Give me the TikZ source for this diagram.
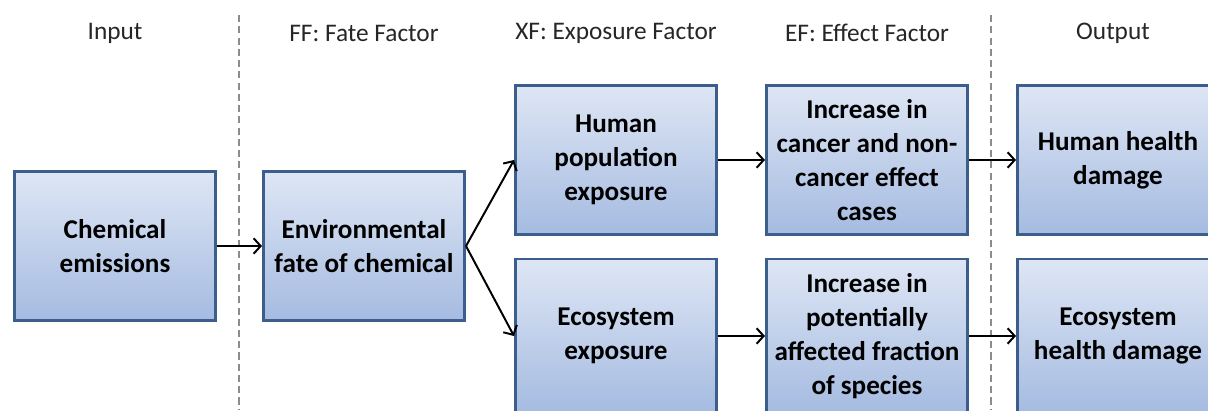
\documentclass[tikz,border=0pt]{standalone}
\usepackage{fontspec}
\setmainfont{Carlito}
\usetikzlibrary{arrows.meta}
\definecolor{boxline}{HTML}{3B5E8C}
\definecolor{boxtop}{HTML}{DEE6F4}
\definecolor{boxbot}{HTML}{A5BBE1}
\definecolor{divgray}{HTML}{8C8C8C}
\begin{document}
\begin{tikzpicture}[x=0.025cm,y=-0.025cm,
  stage/.style={draw=boxline,line width=2.1pt,top color=boxtop,bottom color=boxbot,
    minimum width=5.025cm,minimum height=3.725cm,inner sep=1pt,align=center,
    font=\fontsize{19.3}{24.3}\selectfont\bfseries},
  lowstage/.style={stage,minimum height=3.85cm},
  link/.style={-{Straight Barb[length=5pt,width=11pt]},line width=1.4pt},
  divider/.style={draw=divgray,line width=1.4pt,dash pattern=on 5pt off 3pt},
  head/.style={font=\fontsize{18}{21}\selectfont,text=black!85}]
  \useasboundingbox (0,0) rectangle (1208,410);
  \clip (0,0) rectangle (1208,410);
  % column dividers
  \draw[divider] (239,15) -- (239,410);
  \draw[divider] (991,15) -- (991,410);
  % column headings
  \node[head] (hin)  at (115,33)  {Input};
  \node[head] (hff)  at (364,33)  {FF: Fate Factor};
  \node[head] (hxf)  at (616,33)  {XF: Exposure Factor};
  \node[head] (hef)  at (867,33)  {EF: Effect Factor};
  \node[head] (hout) at (1113,33) {Output};
  % boxes
  \node[stage] (emis)  at (115,246) {Chemical\\emissions};
  \node[stage] (fate)  at (364,246) {Environmental\\fate of chemical};
  \node[stage] (humx)  at (616,160) {Human\\population\\exposure};
  \node[lowstage] (ecox)  at (616,336) {Ecosystem\\exposure};
  \node[stage] (canc)  at (867,160) {Increase in\\cancer and non-\\cancer effect\\cases};
  \node[lowstage] (paf)   at (867,336) {Increase in\\potentially\\affected fraction\\of species};
  \node[stage] (humd)  at (1118,160) {Human health\\damage};
  \node[lowstage] (ecod)  at (1118,336) {Ecosystem\\health damage};
  % connectors
  \draw[link] (emis.east) -- (fate.west);
  \draw[link] (fate.east) -- (humx.west);
  \draw[link] (fate.east) -- (ecox.west);
  \draw[link] (humx) -- (canc);
  \draw[link] (canc) -- (humd);
  \draw[link] (ecox) -- (paf);
  \draw[link] (paf) -- (ecod);
\end{tikzpicture}
\end{document}
